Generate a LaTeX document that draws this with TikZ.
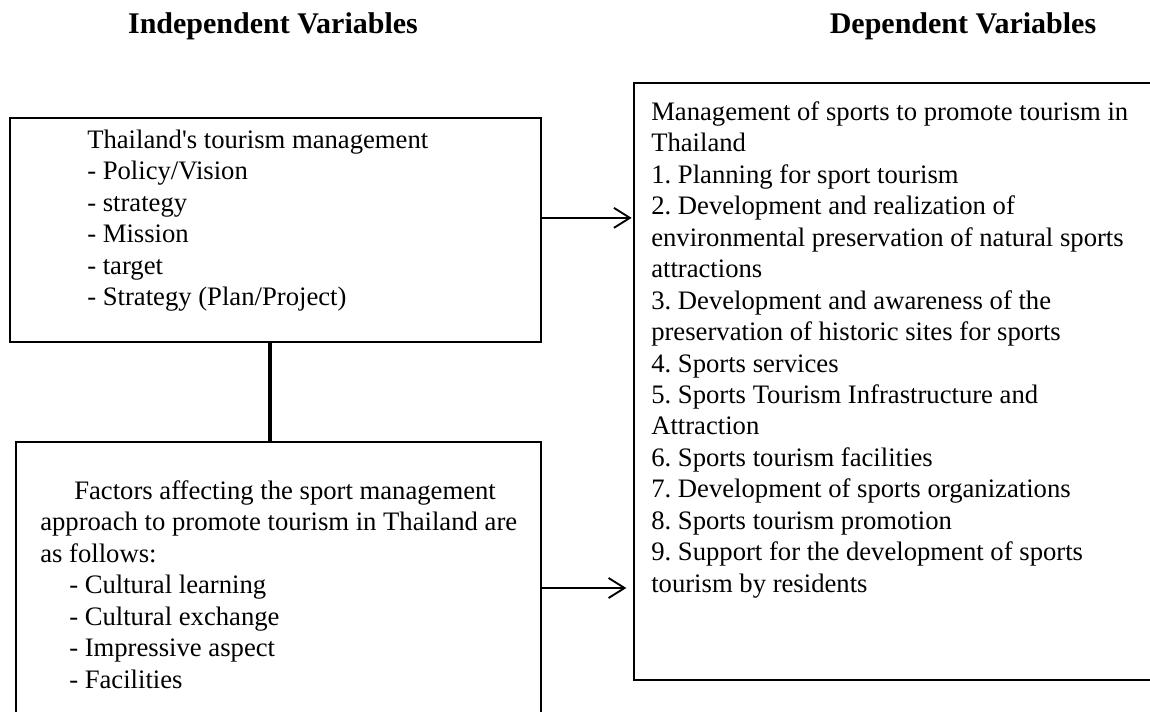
\documentclass[tikz,border=0pt]{standalone}
\usepackage{fontspec}
\setmainfont{Liberation Serif}
\usepackage{tikz}
\usetikzlibrary{arrows.meta,positioning}
\frenchspacing

\begin{document}
\begin{tikzpicture}[x=0.75pt, y=-0.75pt,
    font=\fontsize{20}{23.6}\selectfont,
    box/.style={draw, line width=1.3pt, anchor=north west, inner sep=0pt},
    txt/.style={anchor=north west, align=left, inner sep=0pt},
    head/.style={font=\fontsize{22.5}{26}\selectfont\bfseries, anchor=base},
    link/.style={-{Straight Barb[length=12pt,width=15pt]}, line width=1.4pt}]
  \useasboundingbox (0,0) rectangle (1150,711);
  \clip (0,0) rectangle (1150,711);

  \node[head] (indep) at (273,33) {Independent Variables};
  \node[head] (dep) at (963,33) {Dependent Variables};

  \node[box, minimum width=398.25pt, minimum height=168pt] (tlbox) at (9,117) {};
  \node[box, minimum width=393.75pt, minimum height=225pt] (blbox) at (15,441) {};
  \node[box, minimum width=450pt, minimum height=447.75pt] (rbox) at (633,82) {};

  % text blocks, first line top fixed by a strut of 15pt
  \node[txt] (tltext) at (87,128) {\rule{0pt}{15pt}Thailand\textquotesingle s tourism management\\
    - Policy/Vision\\ - strategy\\ - Mission\\ - target\\ - Strategy (Plan/Project)};
  \node[txt] (bltext) at (40,479)
    {\rule{0pt}{15pt}\hspace*{25.5pt}Factors affecting the sport management\\
    approach to promote tourism in Thailand are\\ as follows:\\
    \hspace*{21.75pt}- Cultural learning\\ \hspace*{21.75pt}- Cultural exchange\\
    \hspace*{21.75pt}- Impressive aspect\\ \hspace*{21.75pt}- Facilities};
  \node[txt] (rtext) at (651,100) {\rule{0pt}{15pt}Management of sports to promote tourism in\\
    Thailand\\ 1. Planning for sport tourism\\ 2. Development and realization of\\
    environmental preservation of natural sports\\ attractions\\
    3. Development and awareness of the\\ preservation of historic sites for sports\\
    4. Sports services\\ 5. Sports Tourism Infrastructure and\\ Attraction\\
    6. Sports tourism facilities\\ 7. Development of sports organizations\\
    8. Sports tourism promotion\\ 9. Support for the development of sports\\
    tourism by residents};

  \draw[link, shorten >=1pt] ([yshift=9pt]tlbox.east) -- ([yshift=9pt]tlbox.east -| rbox.west);
  \draw[link, shorten >=5pt] ([yshift=-110.25pt]blbox.north east) -- ([yshift=-110.25pt]blbox.north east -| rbox.west);
  \draw[line width=3pt] ([xshift=-4pt]tlbox.south) -- ([xshift=-4pt]tlbox.south |- blbox.north);
\end{tikzpicture}
\end{document}
